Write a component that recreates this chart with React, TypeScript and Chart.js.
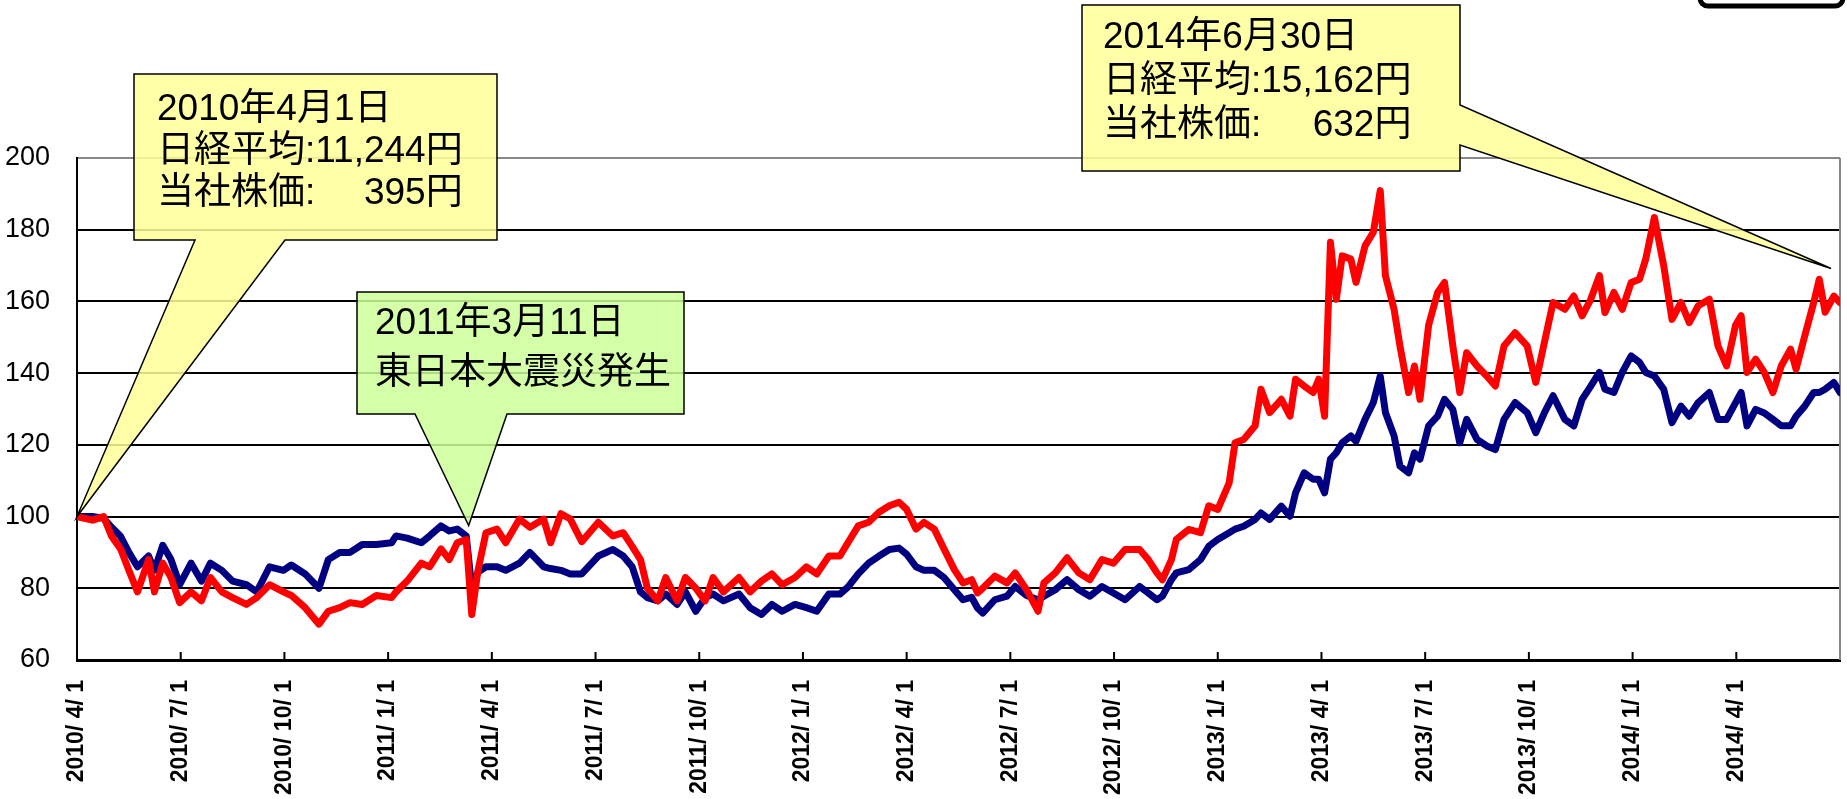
import React, { useEffect, useRef } from 'react';
import { Chart, registerables } from 'chart.js';

Chart.register(...registerables);

// x position in months since 2010/4/1
const monthPos = [
  0, 0.45, 0.77, 1.0, 1.26, 1.5, 1.75, 2.07, 2.24, 2.48, 2.72, 2.97, 3.3, 3.6, 3.86, 4.19, 4.5, 4.9, 5.2, 5.57,
  5.97, 6.2, 6.6, 7.0, 7.27, 7.6, 7.9, 8.25, 8.66, 9.1, 9.23, 9.55, 9.96, 10.2, 10.53, 10.77, 11.0, 11.26, 11.42, 11.6,
  11.83, 12.15, 12.4, 12.8, 13.1, 13.5, 13.7, 14.0, 14.27, 14.6, 15.08, 15.5, 15.8, 16.06, 16.3, 16.5, 16.8, 17.03, 17.36, 17.6,
  17.9, 18.17, 18.4, 18.7, 19.15, 19.47, 19.8, 20.1, 20.4, 20.77, 21.1, 21.4, 21.75, 22.07, 22.3, 22.6, 22.9, 23.2, 23.5, 23.78,
  24.0, 24.27, 24.5, 24.8, 25.08, 25.38, 25.63, 25.88, 26.05, 26.2, 26.55, 26.9, 27.14, 27.47, 27.8, 27.97, 28.3, 28.64, 28.98, 29.3,
  29.65, 29.98, 30.32, 30.74, 30.99, 31.24, 31.4, 31.66, 31.8, 32.16, 32.5, 32.74, 33.0, 33.33, 33.5, 33.75, 34.08, 34.25, 34.5, 34.84,
  35.09, 35.25, 35.5, 35.76, 35.92, 36.09, 36.26, 36.43, 36.6, 36.85, 37.0, 37.26, 37.5, 37.7, 37.85, 38.1, 38.27, 38.52, 38.69, 38.85,
  39.1, 39.36, 39.56, 39.8, 40.0, 40.2, 40.5, 40.78, 41.03, 41.28, 41.6, 41.95, 42.2, 42.45, 42.7, 43.04, 43.3, 43.54, 43.79, 44.04,
  44.2, 44.46, 44.7, 44.96, 45.2, 45.38, 45.63, 45.9, 46.14, 46.4, 46.64, 46.9, 47.22, 47.47, 47.72, 47.98, 48.14, 48.31, 48.56, 48.81,
  49.06, 49.3, 49.57, 49.73, 49.98, 50.24, 50.4, 50.57, 50.82, 51.0,
];

// 当社株価 (index, 2010/4/1 = 100)
const stockIndex = [
  100, 99, 100, 94.5, 91, 85, 79, 88, 79, 87, 83, 76, 79, 76.5, 83, 79, 77.4, 75.5, 77.4, 81,
  79, 78, 74.6, 70, 73.6, 74.6, 76, 75.5, 78, 77.4, 79, 82, 87, 86, 91, 88, 92.7, 93.6, 72.7, 85,
  95.5, 96.5, 92.7, 99.3, 97, 99.3, 92.7, 100.8, 99.3, 93, 98.4, 94.6, 95.5, 91.7, 88, 80, 76.5, 83, 76.5, 83,
  80, 76.5, 83, 79, 83, 79, 82, 84, 81, 83, 86, 84, 89, 89, 92.7, 97.4, 98.4, 101.2, 103, 104,
  102, 96.5, 98.4, 96.5, 91, 85.2, 81.5, 82.4, 78.7, 80, 83.4, 81.5, 84.3, 79.6, 73.6, 81.5, 84.3, 88.5, 84.3, 82.4,
  88, 87, 90.8, 90.8, 88, 84.3, 82.4, 88, 93.6, 96.4, 95.5, 103, 102, 109.4, 120.6, 121.5, 125.3, 135.5, 129, 132.7,
  128, 138.3, 136.4, 134.6, 138.3, 128, 176.5, 160.6, 172.7, 171.8, 165.3, 175.5, 179.3, 190.9, 167.2, 157.8, 147.6, 134.6, 142, 132.7,
  153.4, 162.5, 165.3, 147.6, 134.6, 145.7, 142, 139.2, 136.4, 147.6, 151.3, 147.6, 137.4, 148.6, 159.7, 157.8, 161.5, 156, 160.6, 167.2,
  156.9, 162.5, 157.8, 165.3, 166.2, 171.8, 183.4, 170, 155, 159.7, 154.1, 158.8, 160.6, 147.6, 142, 153.4, 156, 140.2, 143.9, 140.2,
  134.6, 142, 146.7, 141.1, 150.4, 159.7, 166.2, 157, 161.5, 159.7,
];

// 日経平均 (index, 2010/4/1 = 100)
const nikkeiIndex = [
  100, 100, 99.5, 97, 94.5, 90, 86, 89, 85, 92, 88, 81, 87, 82, 87, 85, 82, 81, 79, 86,
  85, 86.5, 84, 80, 88, 90, 90, 92.2, 92.2, 92.7, 94.6, 94, 92.7, 94.6, 97.4, 96, 96.5, 94.6, 80, 84.5,
  86, 86, 85, 87, 90, 86, 85.5, 85, 84, 84, 89, 90.8, 89, 86, 79, 77.4, 76.5, 78.4, 75.5, 79,
  73.6, 77.4, 78.4, 76.5, 78.4, 74.6, 72.7, 75.5, 73.6, 75.5, 74.6, 73.6, 78.4, 78.4, 80.3, 84, 87, 89, 90.8, 91.2,
  89.5, 86, 85, 85, 83, 79.6, 76.8, 77.5, 74.5, 73.1, 76.8, 77.8, 80.5, 78, 76.8, 77.8, 79.6, 82.4, 79.6, 77.8,
  80.5, 78.7, 76.8, 80.5, 78.7, 76.8, 77.8, 82.4, 84.3, 85.2, 88, 91.7, 93.6, 95.5, 96.5, 97.3, 99.2, 101, 99.2, 102.9,
  100.1, 106.6, 112.2, 110.4, 110.4, 106.6, 116, 117.8, 120.6, 122.5, 121, 127.1, 131.8, 139.2, 129, 122.5, 114.1, 112.2, 117.8, 116,
  125.3, 128, 132.7, 129.9, 120.6, 127.1, 121.5, 119.7, 118.7, 127.1, 131.8, 129, 123.4, 129, 133.7, 127.1, 125.3, 132.7, 136.4, 140.2,
  135.5, 134.6, 140.2, 144.8, 143, 140.2, 139.2, 135.5, 126.2, 130.8, 128, 131.8, 134.6, 127.1, 127.1, 131.8, 134.6, 125.3, 129.9, 128.9,
  127.1, 125.3, 125.3, 128, 130.8, 134.6, 134.6, 135.5, 137.4, 134.6,
];

const tickMonths = [0, 3, 6, 9, 12, 15, 18, 21, 24, 27, 30, 33, 36, 39, 42, 45, 48];
const tickLabels = [
  '2010/ 4/ 1', '2010/ 7/ 1', '2010/ 10/ 1', '2011/ 1/ 1', '2011/ 4/ 1', '2011/ 7/ 1', '2011/ 10/ 1',
  '2012/ 1/ 1', '2012/ 4/ 1', '2012/ 7/ 1', '2012/ 10/ 1', '2013/ 1/ 1', '2013/ 4/ 1', '2013/ 7/ 1',
  '2013/ 10/ 1', '2014/ 1/ 1', '2014/ 4/ 1',
];

const W = 1847;
const H = 799;
const BOX_FONT = '37px "Liberation Sans", "Noto Sans CJK JP", sans-serif';

type Callout = {
  lines: string[][];
  fill: string;
  box: { x0: number; y0: number; x1: number; y1: number };
  base: { side: 'bottom' | 'right'; a: number; b: number };
  tip: { m: number; v: number };
  textX: number;
  lineYs: number[];
};

const callouts: Callout[] = [
  {
    lines: [['2010年4月1日'], ['日経平均:11,244円'], ['当社株価:', '395円']],
    fill: 'rgba(255,255,153,0.85)',
    box: { x0: 134, y0: 74, x1: 497, y1: 240 },
    base: { side: 'bottom', a: 195, b: 285 },
    tip: { m: 0, v: 100 },
    textX: 157,
    lineYs: [110, 152, 194],
  },
  {
    lines: [['2011年3月11日'], ['東日本大震災発生']],
    fill: 'rgba(204,255,153,0.85)',
    box: { x0: 357, y0: 292, x1: 684, y1: 414 },
    base: { side: 'bottom', a: 415, b: 507 },
    tip: { m: 11.33, v: 97.5 },
    textX: 375,
    lineYs: [324, 374],
  },
  {
    lines: [['2014年6月30日'], ['日経平均:15,162円'], ['当社株価:', '632円']],
    fill: 'rgba(255,255,153,0.85)',
    box: { x0: 1082, y0: 5, x1: 1460, y1: 171 },
    base: { side: 'right', a: 105, b: 145 },
    tip: { m: 50.74, v: 169.2 },
    textX: 1103,
    lineYs: [38, 82, 126],
  },
];

const framePlugin = {
  id: 'frame',
  beforeDatasetsDraw(chart: any) {
    const { ctx, chartArea, scales } = chart;
    ctx.save();
    // right border
    ctx.strokeStyle = '#888';
    ctx.lineWidth = 2;
    ctx.beginPath();
    ctx.moveTo(chartArea.right, chartArea.top);
    ctx.lineTo(chartArea.right, chartArea.bottom);
    ctx.stroke();
    // inward tick marks on x axis
    ctx.strokeStyle = '#000';
    ctx.lineWidth = 2;
    tickMonths.forEach((m) => {
      const x = scales.x.getPixelForValue(m);
      ctx.beginPath();
      ctx.moveTo(x, chartArea.bottom);
      ctx.lineTo(x, chartArea.bottom - 8);
      ctx.stroke();
    });
    ctx.restore();
  },
  afterDraw(chart: any) {
    const { ctx, scales } = chart;
    ctx.save();
    callouts.forEach((c) => {
      const tx = scales.x.getPixelForValue(c.tip.m);
      const ty = scales.y.getPixelForValue(c.tip.v);
      const { x0, y0, x1, y1 } = c.box;
      ctx.beginPath();
      ctx.moveTo(x0, y0);
      ctx.lineTo(x1, y0);
      if (c.base.side === 'right') {
        ctx.lineTo(x1, c.base.a);
        ctx.lineTo(tx, ty);
        ctx.lineTo(x1, c.base.b);
        ctx.lineTo(x1, y1);
        ctx.lineTo(x0, y1);
      } else {
        ctx.lineTo(x1, y1);
        ctx.lineTo(c.base.b, y1);
        ctx.lineTo(tx, ty);
        ctx.lineTo(c.base.a, y1);
        ctx.lineTo(x0, y1);
      }
      ctx.closePath();
      ctx.fillStyle = c.fill;
      ctx.fill();
      ctx.strokeStyle = '#000';
      ctx.lineWidth = 1.5;
      ctx.lineJoin = 'miter';
      ctx.stroke();

      ctx.font = BOX_FONT;
      ctx.fillStyle = '#000';
      ctx.textBaseline = 'middle';
      const refWidth = c.lines.length > 1 ? ctx.measureText(c.lines[1][0]).width : 0;
      c.lines.forEach((parts, i) => {
        const y = c.lineYs[i];
        ctx.textAlign = 'left';
        ctx.fillText(parts[0], c.textX, y);
        if (parts[1]) {
          ctx.textAlign = 'right';
          ctx.fillText(parts[1], c.textX + refWidth, y);
        }
      });
    });

    // partially visible legend frame at top right
    const lx0 = 1700, lx1 = 1843, ly0 = -60, ly1 = 6, r = 8;
    ctx.beginPath();
    ctx.moveTo(lx0 + r, ly0);
    ctx.lineTo(lx1 - r, ly0);
    ctx.arcTo(lx1, ly0, lx1, ly0 + r, r);
    ctx.lineTo(lx1, ly1 - r);
    ctx.arcTo(lx1, ly1, lx1 - r, ly1, r);
    ctx.lineTo(lx0 + r, ly1);
    ctx.arcTo(lx0, ly1, lx0, ly1 - r, r);
    ctx.lineTo(lx0, ly0 + r);
    ctx.arcTo(lx0, ly0, lx0 + r, ly0, r);
    ctx.closePath();
    ctx.fillStyle = '#fff';
    ctx.fill();
    ctx.strokeStyle = '#000';
    ctx.lineWidth = 5;
    ctx.stroke();
    ctx.restore();
  },
};

export default function App() {
  const canvasRef = useRef<HTMLCanvasElement | null>(null);

  useEffect(() => {
    const canvas = canvasRef.current;
    if (!canvas) return;
    const stockData = monthPos.map((m, i) => ({ x: m, y: stockIndex[i] }));
    const nikkeiData = monthPos.map((m, i) => ({ x: m, y: nikkeiIndex[i] }));
    const chart = new Chart(canvas, {
      type: 'line',
      data: {
        datasets: [
          {
            label: '当社株価',
            data: stockData,
            borderColor: '#FF0000',
            backgroundColor: '#FF0000',
            borderWidth: 7,
            pointRadius: 0,
            tension: 0,
            borderJoinStyle: 'round',
            borderCapStyle: 'round',
          },
          {
            label: '日経平均',
            data: nikkeiData,
            borderColor: '#000080',
            backgroundColor: '#000080',
            borderWidth: 7,
            pointRadius: 0,
            tension: 0,
            borderJoinStyle: 'round',
            borderCapStyle: 'round',
          },
        ],
      },
      options: {
        responsive: false,
        animation: false,
        layout: { padding: { top: 158, right: 7, left: 0, bottom: 0 } },
        plugins: { legend: { display: false }, tooltip: { enabled: false } },
        scales: {
          x: {
            type: 'linear',
            min: 0,
            max: 51,
            grid: { display: false, drawTicks: false },
            border: { display: true, color: '#000', width: 3 },
            afterBuildTicks: (scale: any) => {
              scale.ticks = tickMonths.map((v) => ({ value: v }));
            },
            afterFit: (scale: any) => {
              scale.height = H - 660;
            },
            ticks: {
              autoSkip: false,
              minRotation: 90,
              maxRotation: 90,
              padding: 20,
              color: '#000',
              font: { family: '"Liberation Sans", Arial, sans-serif', size: 23, weight: 'bold' },
              callback: (value: any) => {
                const idx = tickMonths.indexOf(Number(value));
                return idx >= 0 ? tickLabels[idx] : '';
              },
            },
          },
          y: {
            min: 60,
            max: 200,
            grid: {
              drawTicks: false,
              lineWidth: 2,
              color: (ctx: any) => (ctx.tick && ctx.tick.value === 200 ? '#888' : '#000'),
            },
            border: { display: true, color: '#000', width: 2 },
            afterFit: (scale: any) => {
              scale.width = 77;
            },
            ticks: {
              stepSize: 20,
              padding: 27,
              color: '#000',
              font: { family: '"Liberation Sans Narrow", "Arial Narrow", "Liberation Sans", sans-serif', size: 27 },
            },
          },
        },
      },
      plugins: [framePlugin],
    });
    return () => chart.destroy();
  }, []);

  return (
    <div style={{ position: 'fixed', left: 0, top: 0, width: W, height: H, background: '#fff' }}>
      <canvas ref={canvasRef} width={W} height={H} style={{ display: 'block' }} />
    </div>
  );
}
